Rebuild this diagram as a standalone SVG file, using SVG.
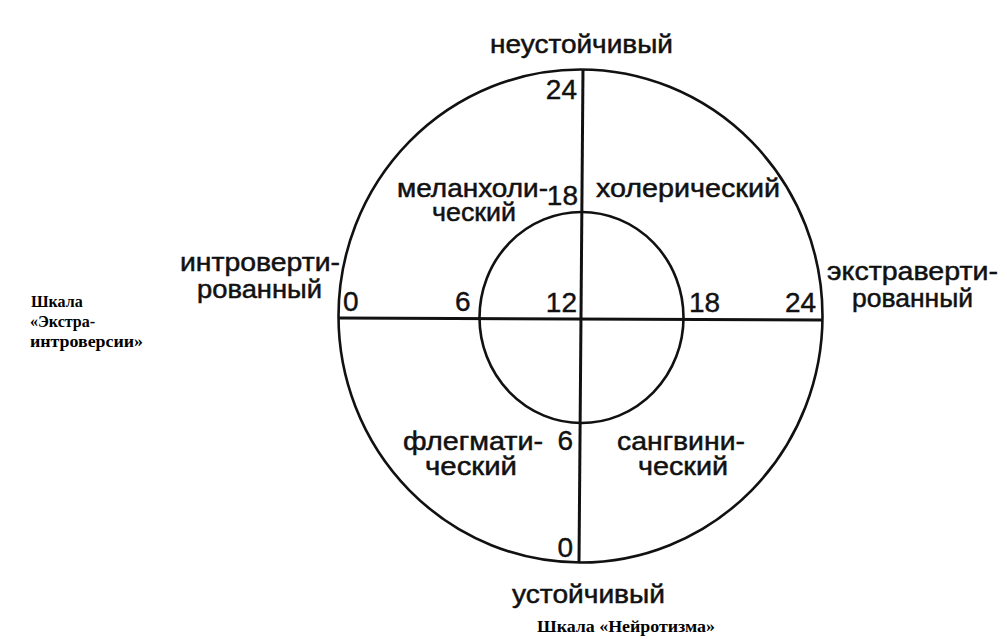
<svg xmlns="http://www.w3.org/2000/svg" width="1007" height="643" viewBox="0 0 1007 643">
<style>
.ln{fill:none;stroke:#111;stroke-width:2.6}
.ax{fill:none;stroke:#111;stroke-width:3}
.w{font-family:"Liberation Sans",Arial,sans-serif;font-size:26px;fill:#111;stroke:#111;stroke-width:0.5}
.n{font-family:"Liberation Sans",Arial,sans-serif;font-size:28px;fill:#111;stroke:#111;stroke-width:0.4}
.c{font-family:"Liberation Serif","Times New Roman",serif;font-size:16px;font-weight:bold;fill:#000}
</style>
<rect width="1007" height="643" fill="#fff"/>
<g id="outer-circle"><ellipse class="ln" cx="580.5" cy="316" rx="242" ry="246.5"/></g>
<g id="inner-circle"><ellipse class="ln" cx="581.5" cy="317.5" rx="102" ry="105.5"/></g>
<g id="connectors">
<line class="ax" x1="583" y1="69" x2="579" y2="563"/>
<line class="ax" x1="339" y1="318" x2="822" y2="320"/>
</g>
<g id="axis-neuroticism">
<text class="w" x="490" y="53" textLength="183" lengthAdjust="spacingAndGlyphs">неустойчивый</text>
<text class="w" x="512" y="603" textLength="153" lengthAdjust="spacingAndGlyphs">устойчивый</text>
<text class="n" x="577" y="99" text-anchor="end">24</text>
<text class="n" x="578" y="205" text-anchor="end">18</text>
<text class="n" x="573" y="450" text-anchor="end">6</text>
<text class="n" x="573" y="557" text-anchor="end">0</text>
</g>
<g id="axis-extraversion">
<text class="w" x="180" y="271" textLength="160" lengthAdjust="spacingAndGlyphs">интроверти-</text>
<text class="w" x="197" y="298" textLength="125" lengthAdjust="spacingAndGlyphs">рованный</text>
<text class="w" x="827" y="280" textLength="171" lengthAdjust="spacingAndGlyphs">экстраверти-</text>
<text class="w" x="852" y="307" textLength="121" lengthAdjust="spacingAndGlyphs">рованный</text>
<text class="n" x="343" y="311">0</text>
<text class="n" x="455" y="311">6</text>
<text class="n" x="577" y="312" text-anchor="end">12</text>
<text class="n" x="689" y="312">18</text>
<text class="n" x="785" y="312">24</text>
</g>
<g id="melancholic">
<text class="w" x="397" y="197" textLength="151" lengthAdjust="spacingAndGlyphs">меланхоли-</text>
<text class="w" x="432" y="221" textLength="84" lengthAdjust="spacingAndGlyphs">ческий</text>
</g>
<g id="choleric">
<text class="w" x="596" y="197" textLength="184" lengthAdjust="spacingAndGlyphs">холерический</text>
</g>
<g id="phlegmatic">
<text class="w" x="403" y="450" textLength="140" lengthAdjust="spacingAndGlyphs">флегмати-</text>
<text class="w" x="425" y="475" textLength="92" lengthAdjust="spacingAndGlyphs">ческий</text>
</g>
<g id="sanguine">
<text class="w" x="617" y="450" textLength="128" lengthAdjust="spacingAndGlyphs">сангвини-</text>
<text class="w" x="638" y="475" textLength="90" lengthAdjust="spacingAndGlyphs">ческий</text>
</g>
<g id="caption-extraversion">
<text class="c" x="31" y="307">Шкала</text>
<text class="c" x="30" y="327">«Экстра-</text>
<text class="c" x="30" y="347" textLength="113" lengthAdjust="spacingAndGlyphs">интроверсии»</text>
</g>
<g id="caption-neuroticism">
<text class="c" x="537" y="632" textLength="178" lengthAdjust="spacingAndGlyphs">Шкала «Нейротизма»</text>
</g>
</svg>
